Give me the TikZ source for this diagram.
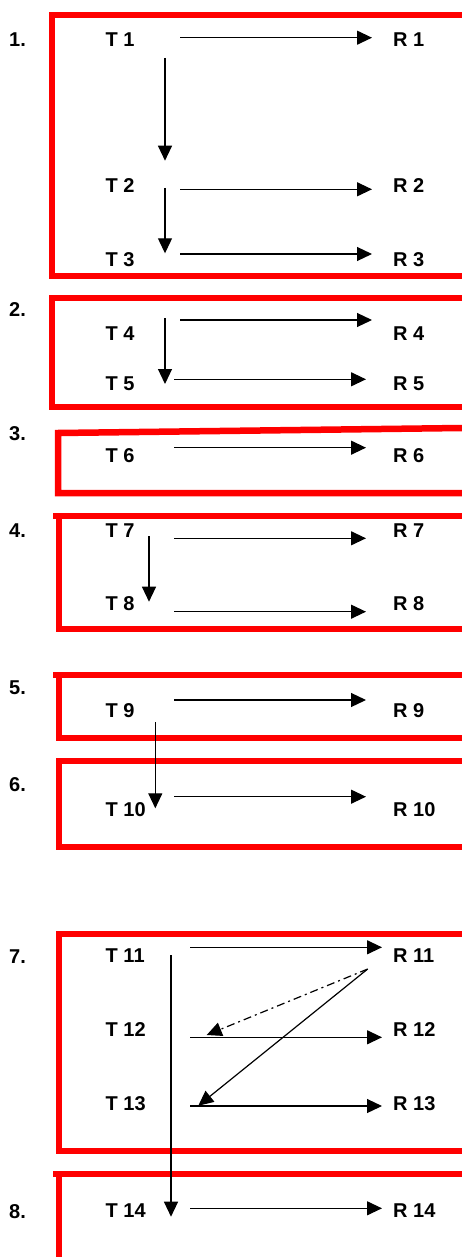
\documentclass[tikz,border=0pt]{standalone}
\usepackage{fontspec}
\setmainfont{Liberation Sans}
\usetikzlibrary{arrows.meta}
\tikzset{
  frame/.style={draw=red, line width=6.5pt},
  lbl/.style={anchor=west, inner sep=0pt, font=\fontsize{20}{24}\selectfont\bfseries},
  arr/.style={line width=1.2pt, -{Triangle[length=15pt,width=14pt]}},
  dashdot/.style={arr, dash pattern=on 8pt off 4pt on 2pt off 4pt},
}
\begin{document}
\begin{tikzpicture}[x=1pt,y=-1pt]
\useasboundingbox (0,0) rectangle (462,1257);
% red frames
\draw[frame] (462,15)  -- (52,15)  -- (52,276) -- (462,276);
\draw[frame] (462,298) -- (52,298) -- (52,407) -- (462,407);
\draw[frame] (462,428) -- (58,433) -- (58,493) -- (462,493);
\draw[frame] (462,516) -- (53,516);
\draw[frame] (59,519)  -- (59,629) -- (462,629);
\draw[frame] (462,675) -- (53,675);
\draw[frame] (59,678)  -- (59,738) -- (462,738);
\draw[frame] (462,761) -- (59,761) -- (59,847) -- (462,847);
\draw[frame] (462,934) -- (59,934) -- (59,1151) -- (462,1151);
\draw[frame] (462,1174) -- (53,1174);
\draw[frame] (59,1177) -- (59,1257);
% numbers
\foreach \n/\y in {1/39.5, 2/310, 3/434, 4/531, 5/687.5, 6/785, 7/956.5, 8/1211.5}
  \node[lbl] (n\n) at (9,\y) {\n.};
% T and R labels
\foreach \i/\y in {1/39.5, 2/186, 3/260, 4/334, 5/384, 6/456, 7/530.5, 8/604,
                   9/711, 10/809.5, 11/956, 12/1030, 13/1104, 14/1211} {
  \node[lbl] (t\i) at (105.5,\y) {T \i};
  \node[lbl] (r\i) at (393,\y)   {R \i};
}
% T -> R
\foreach \i/\a/\b/\dy in {1/74.5/-21/-1.8, 2/74.5/-21/3.3, 3/74.5/-21/-6, 4/74.5/-21/-14,
                          5/68.5/-27/-4.7, 6/68.5/-27/-8.3, 7/68.5/-27/7.8, 8/68.5/-27/7.7,
                          9/68.5/-27/-11, 10/68.5/-27/-12.8, 11/84.5/-11/-8.7,
                          12/84.5/-11/7.3, 13/84.5/-11/2, 14/84.5/-11/-2.7}
  \draw[arr] ([shift={(\a,\dy)}]t\i.west) -- ([shift={(\b,\dy)}]r\i.west);
% T -> T
\draw[arr] ([shift={(59.5,18.5)}]t1.west)  -- ([shift={(59.5,-25.3)}]t2.west);
\draw[arr] ([shift={(59.5,2)}]t2.west)     -- ([shift={(59.5,-6.7)}]t3.west);
\draw[arr] ([shift={(59.5,-16)}]t4.west)   -- ([shift={(59.5,0)}]t5.west);
\draw[arr] ([shift={(43.5,5.5)}]t7.west)   -- ([shift={(43.5,-2.3)}]t8.west);
\draw[arr] ([shift={(49.8,11)}]t9.west)    -- ([shift={(49.8,-1.2)}]t10.west);
\draw[arr] ([shift={(65.5,-1)}]t11.west)   -- ([shift={(65.5,5.7)}]t14.west);
% R11 back to T12, T13
\draw[dashdot] ([shift={(-25.3,13)}]r11.west) -- ([shift={(101.2,5)}]t12.west);
\draw[arr] ([shift={(-25.3,13)}]r11.west) -- ([shift={(92.8,1.7)}]t13.west);
\end{tikzpicture}
\end{document}
